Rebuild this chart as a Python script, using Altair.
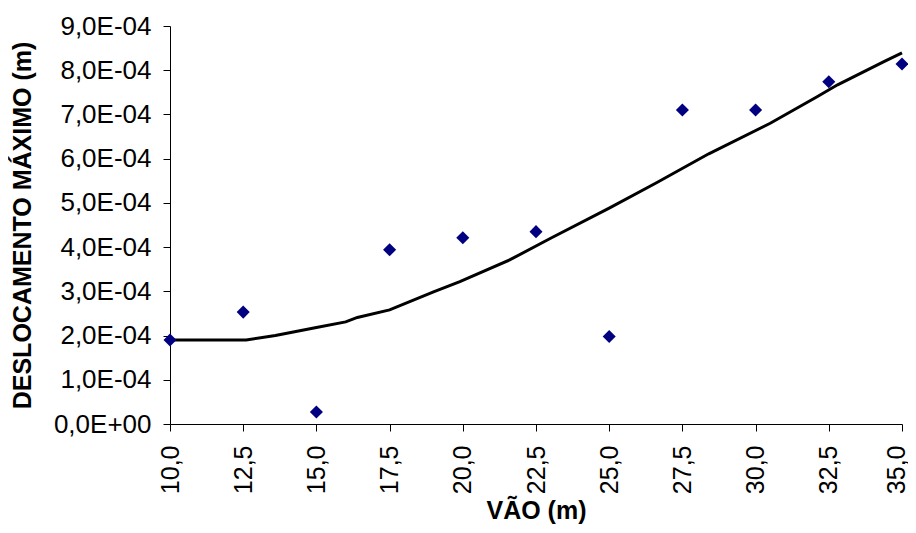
import altair as alt
import pandas as pd

# Measured points
vao = [10.0, 12.5, 15.0, 17.5, 20.0, 22.5, 25.0, 27.5, 30.0, 32.5, 35.0]
desloc = [1.90e-4, 2.53e-4, 0.27e-4, 3.94e-4, 4.21e-4, 4.35e-4, 1.98e-4, 7.10e-4, 7.10e-4, 7.74e-4, 8.14e-4]

# Trend curve
trend_x = [10.0, 12.6, 13.6, 15.0, 16.0, 16.4, 17.5, 19.0, 19.9, 21.6, 23.0, 25.0, 26.6, 28.4, 30.5, 32.1, 32.8, 34.4, 35.0]
trend_y = [1.90e-4, 1.90e-4, 2.00e-4, 2.18e-4, 2.31e-4, 2.41e-4, 2.58e-4, 2.99e-4, 3.22e-4, 3.71e-4, 4.20e-4,
           4.88e-4, 5.45e-4, 6.11e-4, 6.80e-4, 7.40e-4, 7.67e-4, 8.20e-4, 8.39e-4]

x_ticks = [10.0, 12.5, 15.0, 17.5, 20.0, 22.5, 25.0, 27.5, 30.0, 32.5, 35.0]
x_tick_labels = ["10,0", "12,5", "15,0", "17,5", "20,0", "22,5", "25,0", "27,5", "30,0", "32,5", "35,0"]
y_ticks = [0, 1e-4, 2e-4, 3e-4, 4e-4, 5e-4, 6e-4, 7e-4, 8e-4, 9e-4]
y_tick_labels = ["0,0E+00", "1,0E-04", "2,0E-04", "3,0E-04", "4,0E-04",
                 "5,0E-04", "6,0E-04", "7,0E-04", "8,0E-04", "9,0E-04"]

pts = pd.DataFrame({"x": vao, "y": desloc})
trend = pd.DataFrame({"x": trend_x, "y": trend_y})

FONT = "Liberation Sans"
xlab_expr = "[" + ",".join("'%s'" % s for s in x_tick_labels) + "][round((datum.value-10)/2.5)]"
ylab_expr = "[" + ",".join("'%s'" % s for s in y_tick_labels) + "][round(datum.value*10000)]"

x_enc = alt.X("x:Q", scale=alt.Scale(domain=[10, 35], nice=False, zero=False),
              axis=alt.Axis(title="VÃO (m)", values=x_ticks, labelExpr=xlab_expr, labelAngle=-90,
                            labelAlign="right", labelBaseline="middle", labelPadding=14,
                            labelOffset={"condition": {"test": "datum.value >= 35", "value": -6}, "value": 0},
                            grid=False, tickSize=7, tickColor="black", domainColor="black",
                            labelFont=FONT, labelFontSize=25, labelColor="black",
                            titleFont=FONT, titleFontSize=25, titleFontWeight="bold", titleColor="black",
                            titlePadding=5))
y_enc = alt.Y("y:Q", scale=alt.Scale(domain=[0, 9e-4], nice=False),
              axis=alt.Axis(title="DESLOCAMENTO MÁXIMO (m)", values=y_ticks, labelExpr=ylab_expr,
                            grid=False, tickSize=7, tickColor="black", domainColor="black",
                            labelPadding=12, labelFont=FONT, labelFontSize=26, labelColor="black",
                            titleFont=FONT, titleFontSize=25, titleFontWeight="bold", titleColor="black",
                            titlePadding=18))

line = alt.Chart(trend).mark_line(color="black", strokeWidth=3).encode(x=x_enc, y=y_enc)
points = alt.Chart(pts).mark_point(shape="diamond", filled=True, color="#000080", size=170, opacity=1).encode(x="x:Q", y="y:Q")

chart = alt.layer(line, points).properties(
    width=732, height=398,
    autosize=alt.AutoSizeParams(type="none"),
    padding={"left": 162, "top": 18, "right": 6, "bottom": 101},
).configure_view(stroke=None)

chart.save("out.html", embed_options={"renderer": "svg", "actions": False})
